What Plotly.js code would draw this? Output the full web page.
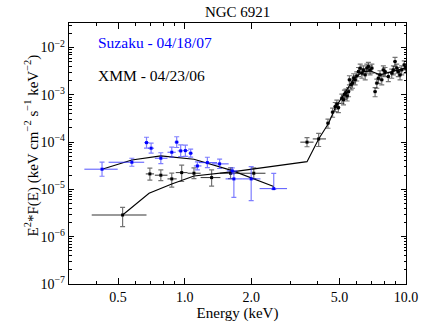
<!DOCTYPE html>
<html><head><meta charset="utf-8">
<script src="https://cdn.plot.ly/plotly-3.0.1.min.js"></script>
<style>html,body{margin:0;padding:0;background:#fff}#chart{width:436px;height:327px}</style>
</head><body><div id="chart"></div>
<script>
// Suzaku 04/18/07 data (blue)
const suzE   = [0.423,0.577,0.672,0.705,0.780,0.874,0.920,0.959,1.007,1.064,1.141,1.266,1.438,1.640,1.668,1.997,2.525];
const suzElo = [0.352,0.453,0.656,0.683,0.733,0.836,0.900,0.930,0.980,1.040,1.100,1.160,1.330,1.550,1.530,1.820,2.180];
const suzEhi = [0.498,0.656,0.690,0.727,0.836,0.911,0.940,0.980,1.040,1.090,1.190,1.400,1.580,1.730,1.820,2.200,2.900];
const suzF   = [2.68e-5,3.76e-5,9.77e-5,7.45e-5,4.57e-5,6.12e-5,1.0e-4,6.53e-5,6.62e-5,5.83e-5,3.14e-5,3.69e-5,3.47e-5,2.47e-5,1.67e-5,1.67e-5,1.04e-5];
const suzFlo = [1.90e-5,3.09e-5,7.5e-5,5.85e-5,3.52e-5,4.82e-5,7.7e-5,4.93e-5,5.02e-5,4.83e-5,2.59e-5,2.89e-5,2.77e-5,2.12e-5,0.68e-5,0.58e-5,1.0e-5];
const suzFhi = [3.78e-5,4.57e-5,1.27e-4,9.55e-5,5.97e-5,7.82e-5,1.3e-4,8.73e-5,8.62e-5,7.13e-5,3.84e-5,4.79e-5,4.37e-5,2.87e-5,2.39e-5,3.04e-5,2.19e-5];

// XMM 04/23/06 data (black), low-energy part with individual errors
const xmmE   = [0.524,0.696,0.780,0.874,0.969,1.101,1.323,1.611,2.052,3.57,4.03];
const xmmElo = [0.380,0.667,0.733,0.836,0.911,1.030,1.180,1.442,1.787,3.33,3.79];
const xmmEhi = [0.672,0.727,0.836,0.920,1.030,1.180,1.450,1.787,2.317,3.82,4.35];
const xmmF   = [2.88e-6,2.13e-5,2.0e-5,1.67e-5,2.27e-5,2.20e-5,1.78e-5,2.20e-5,2.20e-5,1.0e-4,1.17e-4];
const xmmFlo = [1.63e-6,1.58e-5,1.53e-5,1.12e-5,1.47e-5,1.70e-5,1.18e-5,1.70e-5,1.70e-5,0.8e-4,0.81e-4];
const xmmFhi = [4.18e-6,2.83e-5,2.6e-5,2.22e-5,3.27e-5,2.87e-5,2.58e-5,2.87e-5,2.87e-5,1.25e-4,1.54e-4];

// XMM high-energy bins
const hiE = [4.44,4.66,4.79,4.87,4.95,5.13,5.22,5.27,5.35,5.42,5.50,5.55,5.65,5.73,5.80,5.89,5.99,6.10,6.21,6.32,6.42,6.54,6.65,6.76,6.88,7.01,7.25,7.38,7.50,7.63,7.77,7.90,8.04,8.32,8.62,8.77,8.92,9.08,9.23,9.40,9.56,9.82,9.97];
const hiF = [2.52e-4,4.31e-4,5.65e-4,6.36e-4,5.38e-4,8.51e-4,7.84e-4,1.03e-3,1.09e-3,9.5e-4,1.17e-3,2.08e-3,1.63e-3,1.77e-3,2.29e-3,2.08e-3,2.52e-3,3.11e-3,3.67e-3,2.88e-3,3.38e-3,2.65e-3,3.67e-3,3.97e-3,3.38e-3,3.67e-3,1.17e-3,1.77e-3,2.25e-3,2.65e-3,2.08e-3,3.38e-3,3.11e-3,2.44e-3,2.88e-3,3.38e-3,5.07e-3,3.67e-3,3.11e-3,2.65e-3,3.38e-3,4.31e-3,3.67e-3];
const hiErrPct = 22;
const hiEErrPct = 2;

// Model curves
const suzModelE = [0.423,0.577,0.780,0.911,1.101,1.640,2.525];
const suzModelF = [2.68e-5,4.21e-5,5.12e-5,4.80e-5,4.36e-5,2.50e-5,1.15e-5];
const xmmModelE = [0.524,0.690,0.874,1.101,1.668,3.57,4.03,4.47,4.79,5.31,5.77,6.33,6.88,7.63,8.92,10.0];
const xmmModelF = [2.88e-6,8.32e-6,1.31e-5,1.93e-5,2.38e-5,3.87e-5,1.17e-4,2.52e-4,5.31e-4,1.16e-3,2.07e-3,3.07e-3,3.22e-3,2.65e-3,3.22e-3,3.73e-3];

// Tick labels
const xTickVals = [0.5,1,2,5,10];
const xTickText = ['0.5','1.0','2.0','5.0','10.0'];
const yTickVals = [1e-7,1e-6,1e-5,1e-4,1e-3,1e-2];
const yTickText = ['10<sup>−7</sup>','10<sup>−6</sup>','10<sup>−5</sup>','10<sup>−4</sup>','10<sup>−3</sup>','10<sup>−2</sup>'];

const sub = (a,b)=>a.map((v,i)=>v-b[i]);
const xMinor = [];
[0.1,1].forEach(d=>{for(let k=2;k<=9;k++){const v=k*d; if(v>=0.3&&v<=10&&![0.5,2,5].includes(+v.toFixed(3))) xMinor.push(+v.toFixed(3));}});
const yMinor = [];
for(let e=-7;e<=-2;e++){for(let k=2;k<=9;k++) yMinor.push(k*Math.pow(10,e));}

const black='#000', blue='#0000ff';
const traces = [
  {x:xmmModelE,y:xmmModelF,mode:'lines',line:{color:black,width:1.1},hoverinfo:'skip'},
  {x:suzModelE,y:suzModelF,mode:'lines',line:{color:black,width:1.1},hoverinfo:'skip'},
  {x:xmmE,y:xmmF,mode:'markers',marker:{color:black,size:3,symbol:'square'},
   error_y:{type:'data',symmetric:false,array:sub(xmmFhi,xmmF),arrayminus:sub(xmmF,xmmFlo),color:'rgba(0,0,0,0.55)',thickness:1.2,width:2.5},
   error_x:{type:'data',symmetric:false,array:sub(xmmEhi,xmmE),arrayminus:sub(xmmE,xmmElo),color:'rgba(0,0,0,0.8)',thickness:1,width:0}},
  {x:hiE,y:hiF,mode:'markers',marker:{color:black,size:3,symbol:'square'},
   error_y:{type:'percent',value:hiErrPct,color:'rgba(0,0,0,0.55)',thickness:1.2,width:2.5},
   error_x:{type:'percent',value:hiEErrPct,color:'rgba(0,0,0,0.8)',thickness:1,width:0}},
  {x:suzE,y:suzF,mode:'markers',marker:{color:blue,size:3,symbol:'square'},
   error_y:{type:'data',symmetric:false,array:sub(suzFhi,suzF),arrayminus:sub(suzF,suzFlo),color:'rgba(40,40,255,0.6)',thickness:1.2,width:2.5},
   error_x:{type:'data',symmetric:false,array:sub(suzEhi,suzE),arrayminus:sub(suzE,suzElo),color:'rgba(40,40,255,0.8)',thickness:1,width:0}}
];

const fam = '"Liberation Serif", "DejaVu Serif", serif';
const layout = {
  width:436,height:327,
  margin:{l:69,r:30,t:23,b:43},
  paper_bgcolor:'#fff',plot_bgcolor:'#fff',
  showlegend:false,
  font:{family:fam,size:14,color:'#000'},
  title:{text:'NGC 6921',font:{family:fam,size:15,color:'#000'},x:0.545,xanchor:'center',y:0.963,yanchor:'middle'},
  xaxis:{type:'log',range:[Math.log10(0.3),1],tickmode:'array',tickvals:xTickVals,ticktext:xTickText,
    ticks:'inside',ticklen:6,tickwidth:1,tickcolor:'#000',showline:true,linecolor:'#000',linewidth:1.2,mirror:'allticks',
    showgrid:false,zeroline:false,tickfont:{family:fam,size:14},
    minor:{tickmode:'array',tickvals:xMinor,ticks:'inside',ticklen:3,tickcolor:'#000',showgrid:false},
    title:{text:'Energy (keV)',font:{family:fam,size:15},standoff:2}},
  yaxis:{type:'log',range:[-7,-1.48],tickmode:'array',tickvals:yTickVals,ticktext:yTickText,
    ticks:'inside',ticklen:5,tickwidth:1,tickcolor:'#000',showline:true,linecolor:'#000',linewidth:1.2,mirror:'allticks',
    showgrid:false,zeroline:false,tickfont:{family:fam,size:14},
    minor:{tickmode:'array',tickvals:yMinor,ticks:'inside',ticklen:2.5,tickcolor:'#000',showgrid:false}},
  annotations:[
    {text:'E<sup>2</sup>*F(E) (keV cm<sup>−2</sup> s<sup>−1</sup> keV<sup>−2</sup>)',textangle:-90,xref:'paper',yref:'paper',x:0,y:0.5,xanchor:'center',yanchor:'middle',xshift:-37,yshift:8,showarrow:false,font:{family:fam,size:15,color:'#000'}},
    {text:'Suzaku - 04/18/07',xref:'paper',yref:'paper',x:0.08,y:0.925,xanchor:'left',yanchor:'middle',showarrow:false,font:{family:fam,size:15.5,color:blue}},
    {text:'XMM - 04/23/06',xref:'paper',yref:'paper',x:0.08,y:0.80,xanchor:'left',yanchor:'middle',showarrow:false,font:{family:fam,size:15.5,color:'#000'}}
  ]
};
Plotly.newPlot('chart',traces,layout,{staticPlot:true,displayModeBar:false});
</script></body></html>
